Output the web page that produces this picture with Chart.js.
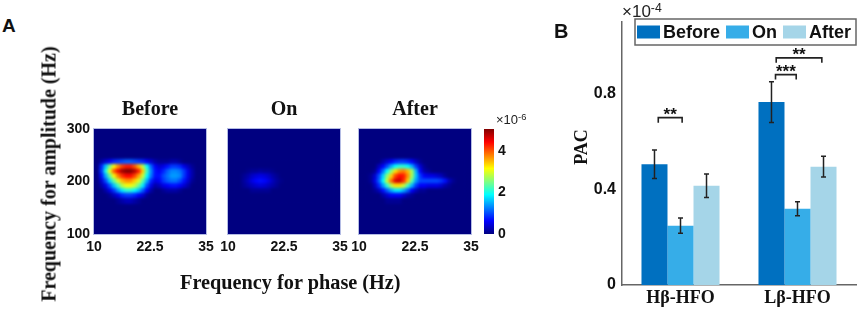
<!DOCTYPE html>
<html>
<head>
<meta charset="utf-8">
<script src="https://cdn.jsdelivr.net/npm/chart.js@4"></script>
<style>
    html, body { margin: 0; padding: 0; background: #fff; }
    #page { position: relative; width: 858px; height: 309px; overflow: hidden; }
    #page canvas { position: absolute; }
    .heat { position: absolute; overflow: hidden; box-shadow: 0 0 0 1px #b4bce4; }
    .heat canvas { filter: blur(1.8px); }
    .label { position: absolute; white-space: nowrap; color: #111; }
    .serif { font: bold 20px "Liberation Serif", serif; }
    .sans { font: bold 19px "Liberation Sans", sans-serif; }
    .expo { font: 14px "Liberation Sans", sans-serif; color: #222; }
    .expo sup { font-size: 0.72em; vertical-align: 0.45em; line-height: 0; }
</style>
</head>
<body>
<div id="page"></div>
<script>
// Panel A: values are in units of 1e-6
const phaseTicks = [10, 22.5, 35];
const ampTicks = [100, 200, 300];
const colorbarTicks = [0, 2, 4];
const colorbarMax = 5.06;
const heatCols = [10, 11, 12, 13, 14, 15, 16, 17, 18, 19, 20, 21, 22, 23, 24, 25, 26, 27, 28, 29, 30, 31, 32, 33, 34, 35];
const heatRows = [240, 230, 220, 210, 200, 190, 180, 170, 160];

const heatBefore = [
    [0, .2, .4, .6, .8, .9, 1, 1.1, 1.1, 1, .9, .8, .6, .4, .2, .1, .1, .1, .2, .2, .1, 0, 0, 0, 0, 0],
    [.1, .8, 1.6, 2.5, 3.2, 3.7, 4.1, 4.3, 4.3, 4, 3.5, 2.8, 1.9, 1.1, .6, .4, .5, .7, .9, .9, .8, .5, .3, .1, 0, 0],
    [.2, .9, 2, 3.1, 4, 4.5, 4.9, 5.06, 5.06, 4.8, 4.3, 3.4, 2.2, 1.3, .7, .6, .8, 1.1, 1.3, 1.3, 1.2, .9, .5, .2, 0, 0],
    [.1, .7, 1.5, 2.4, 3.2, 3.8, 4.2, 4.4, 4.4, 4.1, 3.6, 2.9, 1.9, 1.2, .7, .7, 1, 1.2, 1.4, 1.4, 1.3, .9, .5, .2, 0, 0],
    [.1, .4, 1, 1.7, 2.4, 3, 3.5, 3.7, 3.7, 3.4, 3, 2.3, 1.5, .8, .5, .6, .9, 1.1, 1.2, 1.2, 1, .7, .4, .1, 0, 0],
    [0, .2, .5, 1, 1.6, 2.2, 2.8, 3.1, 3.1, 2.9, 2.4, 1.8, 1, .5, .2, .3, .5, .6, .7, .7, .6, .4, .2, 0, 0, 0],
    [0, 0, .2, .5, .9, 1.4, 1.8, 2.1, 2.1, 1.9, 1.6, 1.1, .6, .2, 0, 0, .1, .2, .2, .2, .1, 0, 0, 0, 0, 0],
    [0, 0, 0, .1, .3, .5, .8, .9, .9, .8, .6, .4, .1, 0, 0, 0, 0, 0, 0, 0, 0, 0, 0, 0, 0, 0],
    [0, 0, 0, 0, 0, .1, .2, .3, .3, .2, .1, 0, 0, 0, 0, 0, 0, 0, 0, 0, 0, 0, 0, 0, 0, 0]
];
const heatOn = [
    [0, 0, 0, 0, 0, 0, 0, 0, 0, 0, 0, 0, 0, 0, 0, 0, 0, 0, 0, 0, 0, 0, 0, 0, 0, 0],
    [0, 0, 0, 0, 0, 0, 0, 0, 0, 0, 0, 0, 0, 0, 0, 0, 0, 0, 0, 0, 0, 0, 0, 0, 0, 0],
    [0, 0, 0, 0, .05, .1, .1, .15, .1, .1, .05, 0, 0, 0, 0, 0, 0, 0, 0, 0, 0, 0, 0, 0, 0, 0],
    [0, 0, 0, .1, .2, .35, .45, .5, .45, .35, .2, .1, 0, 0, 0, 0, 0, 0, 0, 0, 0, 0, 0, 0, 0, 0],
    [0, 0, 0, .15, .3, .5, .65, .7, .65, .5, .3, .15, .05, 0, 0, 0, 0, 0, 0, 0, 0, 0, 0, 0, 0, 0],
    [0, 0, 0, .1, .2, .3, .4, .45, .4, .3, .2, .1, 0, 0, 0, 0, 0, 0, 0, 0, 0, 0, 0, 0, 0, 0],
    [0, 0, 0, 0, 0, .1, .1, .1, .1, .1, 0, 0, 0, 0, 0, 0, 0, 0, 0, 0, 0, 0, 0, 0, 0, 0],
    [0, 0, 0, 0, 0, 0, 0, 0, 0, 0, 0, 0, 0, 0, 0, 0, 0, 0, 0, 0, 0, 0, 0, 0, 0, 0],
    [0, 0, 0, 0, 0, 0, 0, 0, 0, 0, 0, 0, 0, 0, 0, 0, 0, 0, 0, 0, 0, 0, 0, 0, 0, 0]
];
const heatAfter = [
    [0, 0, 0, 0, 0, .2, .4, .6, .8, .9, .9, .8, .6, .3, .1, 0, 0, 0, 0, 0, 0, 0, 0, 0, 0, 0],
    [0, 0, 0, 0, .3, .6, 1, 1.5, 1.9, 2.1, 2.1, 1.9, 1.5, .9, .4, .1, 0, 0, 0, 0, 0, 0, 0, 0, 0, 0],
    [0, 0, 0, .1, .6, 1.2, 1.9, 2.6, 3.3, 3.7, 3.8, 3.5, 2.7, 1.5, .6, .2, .1, 0, 0, 0, 0, 0, 0, 0, 0, 0],
    [0, 0, .1, .4, 1, 1.7, 2.6, 3.4, 4.1, 4.4, 4.3, 3.7, 2.7, 1.6, .9, .6, .5, .5, .4, .3, .1, 0, 0, 0, 0, 0],
    [0, 0, .1, .5, 1.1, 1.9, 2.9, 3.9, 4.6, 4.7, 4.2, 3.4, 2.3, 1.4, 1, 1, 1, 1, 1, .9, .7, .3, .1, 0, 0, 0],
    [0, 0, 0, .3, .8, 1.4, 2.1, 2.8, 3.3, 3.3, 2.9, 2.2, 1.5, .9, .6, .6, .5, .5, .5, .4, .2, .1, 0, 0, 0, 0],
    [0, 0, 0, .1, .3, .7, 1.1, 1.5, 1.8, 1.8, 1.5, 1.1, .6, .3, .1, .1, 0, 0, 0, 0, 0, 0, 0, 0, 0, 0],
    [0, 0, 0, 0, 0, .2, .4, .6, .6, .6, .4, .2, .1, 0, 0, 0, 0, 0, 0, 0, 0, 0, 0, 0, 0, 0],
    [0, 0, 0, 0, 0, 0, .1, .1, .1, .1, 0, 0, 0, 0, 0, 0, 0, 0, 0, 0, 0, 0, 0, 0, 0, 0]
];

// Panel B: values are in units of 1e-4
const groups = ['Hβ-HFO', 'Lβ-HFO'];
const seriesNames = ['Before', 'On', 'After'];
const seriesColors = ['#0070c0', '#36ade8', '#a5d5e8'];
const pacBefore = [0.505, 0.765];
const pacOn = [0.248, 0.319];
const pacAfter = [0.415, 0.495];
const errBefore = [0.06, 0.085];
const errOn = [0.032, 0.029];
const errAfter = [0.049, 0.043];
const pacTicks = [0, 0.4, 0.8];

// significance brackets: [x from, x to] in category units, height in PAC units
const brackets = [
    { from: -0.19, to: 0.014, top: 0.70, text: '**' },
    { from: 0.812, to: 0.989, top: 0.88, text: '***' },
    { from: 0.818, to: 1.208, top: 0.95, text: '**' }
];

const page = document.getElementById('page');
const BOLD_SANS = { family: '"Liberation Sans", sans-serif', weight: 'bold', size: 14 };
const BOLD_SERIF = { family: '"Liberation Serif", serif', weight: 'bold', size: 18 };

Chart.defaults.animation = false;
Chart.defaults.responsive = false;
Chart.defaults.color = '#111';

function addCanvas(parent, left, top, width, height) {
    const canvas = document.createElement('canvas');
    canvas.width = width;
    canvas.height = height;
    canvas.style.left = left + 'px';
    canvas.style.top = top + 'px';
    parent.appendChild(canvas);
    return canvas;
}

function addLabel(html, cls, css) {
    const el = document.createElement('div');
    el.className = 'label ' + cls;
    el.innerHTML = html;
    Object.assign(el.style, css);
    page.appendChild(el);
    return el;
}

function jet(v) {
    const t = Math.min(1, Math.max(0, v / colorbarMax));
    const c = k => Math.round(255 * Math.min(1, Math.max(0, 1.5 - Math.abs(4 * t - k))));
    return `rgb(${c(3)},${c(2)},${c(1)})`;
}

// Heat cells as one scatter dataset of square points, blurred by css
function createHeatmap(values, left, top, width, height) {
    const box = document.createElement('div');
    box.className = 'heat';
    Object.assign(box.style, {
        left: left + 'px', top: top + 'px', width: width + 'px', height: height + 'px', background: jet(0)
    });
    page.appendChild(box);

    const points = [];
    const colors = [];
    heatRows.forEach((amp, r) => {
        heatCols.forEach((phase, c) => {
            points.push({ x: phase, y: amp });
            colors.push(jet(values[r][c]));
        });
    });

    new Chart(addCanvas(box, 0, 0, width, height), {
        type: 'scatter',
        data: {
            datasets: [{
                data: points,
                pointStyle: 'rect',
                pointRadius: 4.4,
                pointBorderWidth: 0,
                pointBackgroundColor: colors
            }]
        },
        options: {
            layout: { padding: 0 },
            plugins: { legend: { display: false }, tooltip: { enabled: false } },
            scales: {
                x: { type: 'linear', display: false, min: 10, max: 35 },
                y: { type: 'linear', display: false, min: 100, max: 300 }
            }
        }
    });
}

// Transparent chart on top of a heatmap, only for the ticks and the title
function createHeatAxes(title, showY, left, top, width, height) {
    const padL = 40, padR = 24, padT = 40, padB = 30;
    new Chart(addCanvas(page, left - padL, top - padT, width + padL + padR, height + padT + padB), {
        type: 'scatter',
        data: { datasets: [{ data: [] }] },
        options: {
            layout: { padding: { top: padT, right: padR, left: 0, bottom: 0 } },
            plugins: { legend: { display: false }, tooltip: { enabled: false } },
            scales: {
                x: {
                    type: 'linear', min: 10, max: 35,
                    grid: { display: false, drawTicks: false },
                    border: { display: false },
                    afterBuildTicks: s => { s.ticks = phaseTicks.map(value => ({ value })); },
                    afterFit: s => { s.height = padB; },
                    ticks: { font: BOLD_SANS, maxRotation: 0, padding: 5, autoSkip: false, callback: v => String(v) }
                },
                y: {
                    type: 'linear', min: 100, max: 300,
                    grid: { display: false, drawTicks: false },
                    border: { display: false },
                    afterBuildTicks: s => { s.ticks = ampTicks.map(value => ({ value })); },
                    afterFit: s => { s.width = padL; },
                    ticks: { font: BOLD_SANS, padding: 4, display: showY, autoSkip: false, callback: v => String(v) }
                }
            }
        }
    });
    addLabel(title, 'serif', {
        left: (left + width / 2) + 'px', top: (top - 32) + 'px', transform: 'translateX(-50%)'
    });
}

function createColorbar(left, top, width, height) {
    const padR = 30, padT = 20, padB = 20;
    new Chart(addCanvas(page, left, top - padT, width + padR, height + padT + padB), {
        type: 'bar',
        data: {
            labels: [''],
            datasets: [{
                data: [[0, colorbarMax]],
                barPercentage: 1,
                categoryPercentage: 1,
                borderWidth: 0,
                backgroundColor: ctx => {
                    const area = ctx.chart.chartArea;
                    if (!area) return '#000080';
                    const g = ctx.chart.ctx.createLinearGradient(0, area.bottom, 0, area.top);
                    for (let i = 0; i <= 16; i++) g.addColorStop(i / 16, jet(colorbarMax * i / 16));
                    return g;
                }
            }]
        },
        options: {
            layout: { padding: { top: padT, bottom: padB, left: 0, right: 0 } },
            plugins: { legend: { display: false }, tooltip: { enabled: false } },
            scales: {
                x: { display: false },
                y: {
                    position: 'right', min: 0, max: colorbarMax,
                    grid: { display: false, drawTicks: false },
                    border: { display: false },
                    afterBuildTicks: s => { s.ticks = colorbarTicks.map(value => ({ value })); },
                    afterFit: s => { s.width = padR; },
                    ticks: { font: BOLD_SANS, padding: 4, callback: v => String(v) }
                }
            }
        }
    });
}

// Error bars, brackets and legend for panel B are drawn on the bar chart
const pacDecorations = {
    id: 'pacDecorations',
    afterDatasetsDraw(chart) {
        const { ctx, scales } = chart;
        const errors = [errBefore, errOn, errAfter];
        const values = [pacBefore, pacOn, pacAfter];

        ctx.save();
        ctx.strokeStyle = '#222';
        ctx.lineWidth = 1.5;
        errors.forEach((errs, s) => {
            chart.getDatasetMeta(s).data.forEach((bar, i) => {
                const hi = scales.y.getPixelForValue(values[s][i] + errs[i]);
                const lo = scales.y.getPixelForValue(values[s][i] - errs[i]);
                ctx.beginPath();
                ctx.moveTo(bar.x, hi);
                ctx.lineTo(bar.x, lo);
                ctx.moveTo(bar.x - 2.5, hi);
                ctx.lineTo(bar.x + 2.5, hi);
                ctx.moveTo(bar.x - 2.5, lo);
                ctx.lineTo(bar.x + 2.5, lo);
                ctx.stroke();
            });
        });

        ctx.lineWidth = 1.6;
        ctx.fillStyle = '#111';
        ctx.font = 'bold 17px "Liberation Sans", sans-serif';
        ctx.textAlign = 'center';
        ctx.textBaseline = 'alphabetic';
        brackets.forEach(b => {
            const x0 = scales.x.getPixelForValue(b.from);
            const x1 = scales.x.getPixelForValue(b.to);
            const y = scales.y.getPixelForValue(b.top);
            ctx.beginPath();
            ctx.moveTo(x0, y + 5);
            ctx.lineTo(x0, y);
            ctx.lineTo(x1, y);
            ctx.lineTo(x1, y + 5);
            ctx.stroke();
            ctx.fillText(b.text, (x0 + x1) / 2, y + 2);
        });

        // legend box sits inside the plot, on top of the axis
        const boxLeft = 75, boxTop = 19, boxW = 221, boxH = 26;
        ctx.fillStyle = '#fff';
        ctx.fillRect(boxLeft, boxTop, boxW, boxH);
        ctx.strokeStyle = '#666';
        ctx.lineWidth = 1.5;
        ctx.strokeRect(boxLeft, boxTop, boxW, boxH);
        ctx.font = 'bold 18px "Liberation Sans", sans-serif';
        ctx.textAlign = 'left';
        ctx.textBaseline = 'middle';
        let x = boxLeft + 2;
        seriesNames.forEach((name, s) => {
            ctx.fillStyle = seriesColors[s];
            ctx.fillRect(x, boxTop + 6.5, 23, 13);
            ctx.fillStyle = '#111';
            ctx.fillText(name, x + 26, boxTop + 14);
            x += 26 + ctx.measureText(name).width + 6;
        });
        ctx.restore();
    }
};

function createPacChart() {
    const left = 560, padL = 62, padT = 22, padB = 24, padR = 2;
    new Chart(addCanvas(page, left, 0, 298, 309), {
        type: 'bar',
        data: {
            labels: groups,
            datasets: [
                { label: seriesNames[0], data: pacBefore, backgroundColor: seriesColors[0] },
                { label: seriesNames[1], data: pacOn, backgroundColor: seriesColors[1] },
                { label: seriesNames[2], data: pacAfter, backgroundColor: seriesColors[2] }
            ]
        },
        options: {
            layout: { padding: { top: padT, right: padR, left: 0, bottom: 0 } },
            datasets: { bar: { barPercentage: 1, categoryPercentage: 0.667 } },
            plugins: { legend: { display: false }, tooltip: { enabled: false } },
            scales: {
                x: {
                    grid: { display: false, drawTicks: false },
                    border: { color: '#666', width: 1.5 },
                    afterFit: s => { s.height = padB; },
                    ticks: { font: BOLD_SERIF, padding: 3, maxRotation: 0 }
                },
                y: {
                    min: 0, max: 1.1,
                    grid: { display: false, drawTicks: false },
                    border: { color: '#666', width: 1.5 },
                    afterBuildTicks: s => { s.ticks = pacTicks.map(value => ({ value })); },
                    afterFit: s => { s.width = padL; },
                    ticks: { font: { ...BOLD_SANS, size: 16 }, padding: 6, callback: v => String(v) }
                }
            }
        },
        plugins: [pacDecorations]
    });
}

const plots = [
    { title: 'Before', values: heatBefore, left: 94, showY: true },
    { title: 'On', values: heatOn, left: 228, showY: false },
    { title: 'After', values: heatAfter, left: 359, showY: false }
];
const plotTop = 129, plotW = 112, plotH = 105;

plots.forEach(p => {
    createHeatmap(p.values, p.left, plotTop, plotW, plotH);
    createHeatAxes(p.title, p.showY, p.left, plotTop, plotW, plotH);
});
createColorbar(484, plotTop, 10, plotH);
createPacChart();

addLabel('A', 'sans', { left: '2px', top: '15px' });
addLabel('B', 'sans', { left: '554px', top: '20px', fontSize: '20px' });
addLabel('Frequency for phase (Hz)', 'serif', { left: '180px', top: '271px', fontSize: '20.3px' });
addLabel('Frequency for amplitude (Hz)', 'serif', {
    left: '49px', top: '173.5px', transform: 'translate(-50%, -50%) rotate(-90deg)'
});
addLabel('PAC', 'serif', {
    left: '581px', top: '147px', fontSize: '18px', transform: 'translate(-50%, -50%) rotate(-90deg)'
});
addLabel('×10<sup>-6</sup>', 'expo', { left: '496px', top: '112px', fontSize: '13px' });
addLabel('×10<sup>-4</sup>', 'expo', { left: '622px', top: '2px', fontSize: '17px' });
</script>
</body>
</html>
